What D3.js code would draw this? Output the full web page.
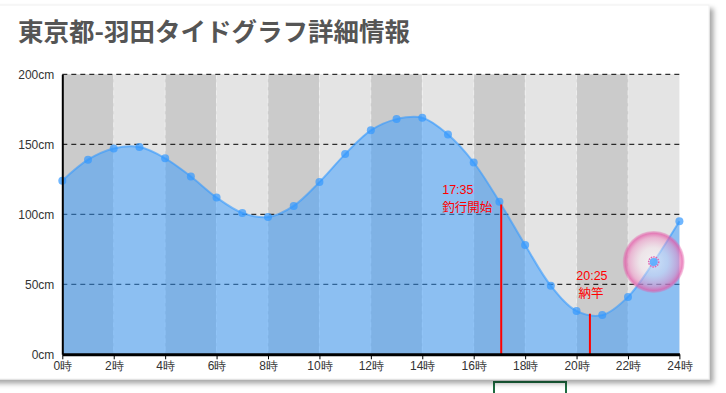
<!DOCTYPE html>
<html>
<head>
<meta charset="utf-8">
<script src="https://cdn.jsdelivr.net/npm/d3@7"></script>
<style>
  html, body { margin: 0; padding: 0; background: #fff; overflow: hidden; }
  svg { display: block; font-family: "Liberation Sans", Arial, "Noto Sans CJK JP", sans-serif; }
</style>
</head>
<body>
<script>
(function(){

    //tide data, one value per hour (cm)
    var hours = d3.range(0, 25);
    var tideLevels = [124, 139, 147, 148, 140, 127, 112, 101, 98, 106, 123, 143, 160,
                      168, 169, 157, 137, 109, 78, 49, 31, 28, 41, 66, 95];

    //x and y tick values
    var xTicks = [0, 2, 4, 6, 8, 10, 12, 14, 16, 18, 20, 22, 24];
    var yTicks = [0, 50, 100, 150, 200];

    //fishing start / end markers
    var eventHours = [17.07, 20.52];
    var eventLevels = [107, 29];
    var eventTimes = ["17:35", "20:25"];
    var eventNames = ["釣行開始", "納竿"];

    //highlighted hour
    var focusHour = 23;

    var titleText = "東京都-羽田タイドグラフ詳細情報";

    //frame
    var width = 726, height = 393;
    var left = 62.3, right = 679.4, top = 74.3, bottom = 354.3;

    var x = d3.scaleLinear().domain([0, 24]).range([left, right]);
    var y = d3.scaleLinear().domain([0, 200]).range([bottom, top]);

    var svg = d3.select("body").append("svg")
        .attr("width", width)
        .attr("height", height);

    var defs = svg.append("defs");
    var shadow = defs.append("filter").attr("id", "cardShadow")
        .attr("x", "-5%").attr("y", "-5%").attr("width", "115%").attr("height", "120%");
    shadow.append("feDropShadow")
        .attr("dx", 4).attr("dy", 4).attr("stdDeviation", 2.5)
        .attr("flood-color", "#000").attr("flood-opacity", 0.35);

    var glow = defs.append("radialGradient").attr("id", "glow");
    glow.append("stop").attr("offset", "0%").attr("stop-color", "#ffffff").attr("stop-opacity", 0.55);
    glow.append("stop").attr("offset", "45%").attr("stop-color", "#fbe6f1").attr("stop-opacity", 0.4);
    glow.append("stop").attr("offset", "78%").attr("stop-color", "#ee88c0").attr("stop-opacity", 0.5);
    glow.append("stop").attr("offset", "92%").attr("stop-color", "#e45aa8").attr("stop-opacity", 0.75);
    glow.append("stop").attr("offset", "100%").attr("stop-color", "#e45aa8").attr("stop-opacity", 0.25);

    //green box below the card
    svg.append("rect")
        .attr("x", 494).attr("y", 382)
        .attr("width", 72).attr("height", 30)
        .attr("fill", "none")
        .attr("stroke", "#1d6b40")
        .attr("stroke-width", 2);

    //card
    svg.append("rect")
        .attr("x", -10).attr("y", 5)
        .attr("width", 719).attr("height", 374)
        .attr("fill", "#fff")
        .attr("stroke", "#f0f0f0")
        .attr("filter", "url(#cardShadow)");

    //title
    svg.append("text")
        .attr("x", 18).attr("y", 41)
        .attr("fill", "#555")
        .style("font-family", "'Noto Sans CJK JP', sans-serif")
        .style("font-weight", "bold")
        .style("font-size", "25.5px")
        .text(titleText);

    //alternating 2 hour bands
    var bands = d3.range(0, 24, 2);
    svg.selectAll(".band")
        .data(bands)
        .enter()
        .append("rect")
        .attr("class", "band")
        .attr("x", function(d){ return x(d); })
        .attr("y", top)
        .attr("width", function(d){ return x(d + 2) - x(d); })
        .attr("height", bottom - top)
        .attr("fill", function(d, i){ return i % 2 === 0 ? "#cbcbcb" : "#e4e4e4"; });

    //faint band separators
    svg.selectAll(".sep")
        .data(xTicks.slice(1, -1))
        .enter()
        .append("line")
        .attr("x1", function(d){ return x(d); })
        .attr("x2", function(d){ return x(d); })
        .attr("y1", top).attr("y2", bottom)
        .attr("stroke", "#fff")
        .attr("stroke-opacity", 0.45)
        .attr("stroke-dasharray", "5,3");

    //horizontal dashed grid
    svg.selectAll(".grid")
        .data(yTicks.slice(1))
        .enter()
        .append("line")
        .attr("x1", left).attr("x2", right)
        .attr("y1", function(d){ return y(d); })
        .attr("y2", function(d){ return y(d); })
        .attr("stroke", "#000")
        .attr("stroke-dasharray", "5,4");

    var tide = hours.map(function(h, i){ return {h: h, v: tideLevels[i]}; });
    var curve = d3.curveCatmullRom.alpha(0.5);

    var area = d3.area()
        .x(function(d){ return x(d.h); })
        .y0(bottom)
        .y1(function(d){ return y(d.v); })
        .curve(curve);

    var line = d3.line()
        .x(function(d){ return x(d.h); })
        .y(function(d){ return y(d.v); })
        .curve(curve);

    svg.append("path")
        .datum(tide)
        .attr("d", area)
        .attr("fill", "#3399ff")
        .attr("fill-opacity", 0.5);

    svg.append("path")
        .datum(tide)
        .attr("d", line)
        .attr("fill", "none")
        .attr("stroke", "#3399ff")
        .attr("stroke-opacity", 0.6)
        .attr("stroke-width", 2);

    svg.selectAll(".pt")
        .data(tide)
        .enter()
        .append("circle")
        .attr("class", "pt")
        .attr("cx", function(d){ return x(d.h); })
        .attr("cy", function(d){ return y(d.v); })
        .attr("r", 4)
        .attr("fill", "#3399ff")
        .attr("fill-opacity", 0.7);

    //start / end markers
    svg.selectAll(".ev")
        .data(eventHours)
        .enter()
        .append("line")
        .attr("x1", function(d){ return x(d); })
        .attr("x2", function(d){ return x(d); })
        .attr("y1", function(d, i){ return y(eventLevels[i]); })
        .attr("y2", bottom)
        .attr("stroke", "red")
        .attr("stroke-width", 2);

    var evLabels = svg.append("g")
        .style("font-family", "'Liberation Sans', Arial, 'Noto Sans CJK JP', sans-serif")
        .style("font-size", "12.5px")
        .attr("fill", "red");

    //start label sits to the left of its marker
    evLabels.append("text")
        .attr("x", x(eventHours[0]) - 59).attr("y", 194)
        .text(eventTimes[0]);
    evLabels.append("text")
        .attr("x", x(eventHours[0]) - 59).attr("y", 212)
        .text(eventNames[0]);

    //end label centred above its marker
    evLabels.append("text")
        .attr("x", x(eventHours[1]) + 2).attr("y", 280)
        .attr("text-anchor", "middle")
        .text(eventTimes[1]);
    evLabels.append("text")
        .attr("x", x(eventHours[1]) + 1).attr("y", 298)
        .attr("text-anchor", "middle")
        .text(eventNames[1]);

    //axes
    var xAxis = d3.axisBottom(x)
        .tickValues(xTicks)
        .tickSize(5)
        .tickSizeOuter(0)
        .tickPadding(2)
        .tickFormat(function(d){ return d + "時"; });

    var yAxis = d3.axisLeft(y)
        .tickValues(yTicks)
        .tickSize(0)
        .tickPadding(8)
        .tickFormat(function(d){ return d + "cm"; });

    var gx = svg.append("g")
        .attr("transform", "translate(0," + bottom + ")")
        .call(xAxis);
    gx.select(".domain").attr("stroke-width", 3);

    var gy = svg.append("g")
        .attr("transform", "translate(" + left + ",0)")
        .call(yAxis);
    gy.select(".domain").attr("stroke-width", 2);

    svg.selectAll(".tick text")
        .attr("fill", "#333")
        .style("font-size", "12px");

    //highlight on the focused hour
    var fv = tideLevels[hours.indexOf(focusHour)];
    svg.append("circle")
        .attr("cx", x(focusHour)).attr("cy", y(fv))
        .attr("r", 31)
        .attr("fill", "url(#glow)");
    svg.append("circle")
        .attr("cx", x(focusHour)).attr("cy", y(fv))
        .attr("r", 4)
        .attr("fill", "#3399ff")
        .attr("fill-opacity", 0.6);
    svg.append("circle")
        .attr("cx", x(focusHour)).attr("cy", y(fv))
        .attr("r", 5)
        .attr("fill", "none")
        .attr("stroke", "#e060b0")
        .attr("stroke-width", 1.5)
        .attr("stroke-dasharray", "1.5,1");
})();
</script>
</body>
</html>
